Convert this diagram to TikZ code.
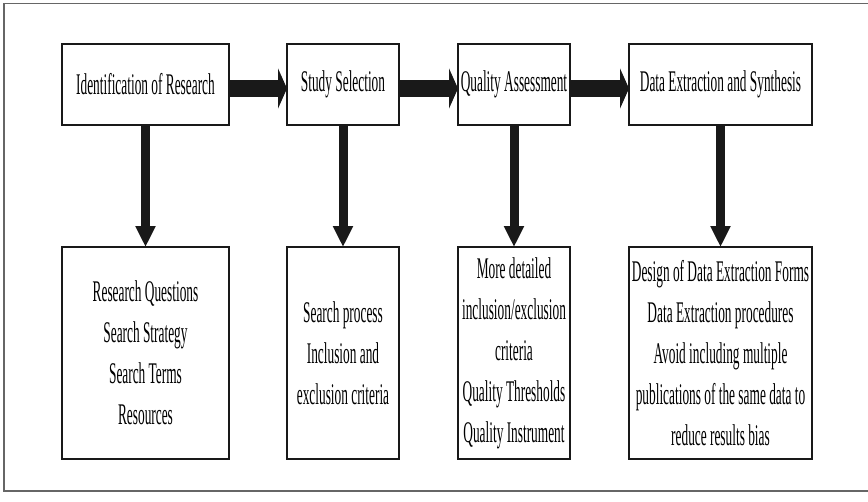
\documentclass[tikz,border=0pt]{standalone}
\usepackage{fontspec}
\setmainfont{Liberation Serif}[FakeStretch=0.445]
\usetikzlibrary{arrows.meta}

\begin{document}
\begin{tikzpicture}[x=1pt, y=-1pt,
        stage/.style={draw=black!90, line width=2.5pt, fill=white, outer sep=0pt, inner sep=1pt, align=center, font=\fontsize{30}{41}\selectfont},
        flow/.style={black!90, line width=17pt, -{Triangle[length=9pt, width=40pt]}},
        down/.style={black!90, line width=9pt, -{Triangle[length=21pt, width=19pt]}}]
        \useasboundingbox (0,0) rectangle (868,501);
        \draw[black!60, line width=1.5pt] (868,3.5) -- (4,3.5) -- (4,491) -- (868,491);
        % top row
        \node[stage, minimum width=167pt, minimum height=81pt] (ident) at (145.5,84.5) {Identification of Research};
        \node[stage, minimum width=112pt, minimum height=81pt] (select) at (343,84.5) {Study Selection};
        \node[stage, minimum width=112pt, minimum height=81pt] (quality) at (514,84.5) {Quality Assessment};
        \node[stage, minimum width=183pt, minimum height=81pt] (extract) at (720.5,84.5) {Data Extraction and Synthesis};
        % bottom row
        \node[stage, minimum width=167pt, minimum height=212pt] (identsub) at (145.5,353) {Research Questions\\Search Strategy\\Search Terms\\Resources};
        \node[stage, minimum width=112pt, minimum height=212pt] (selectsub) at (343,353) {Search process\\Inclusion and\\exclusion criteria};
        \node[stage, minimum width=112pt, minimum height=212pt] (qualitysub) at (514,353) {More detailed\\inclusion/exclusion\\criteria\\Quality Thresholds\\Quality Instrument};
        \node[stage, minimum width=183pt, minimum height=212pt] (extractsub) at (720.5,353) {Design of Data Extraction Forms\\Data Extraction procedures\\Avoid including multiple\\publications of the same data to\\reduce results bias};
        % arrows
        \draw[flow] ([yshift=-4pt]ident.east) -- ([yshift=-4pt]select.west);
        \draw[flow] ([yshift=-4pt]select.east) -- ([yshift=-4pt]quality.west);
        \draw[flow] ([yshift=-4pt]quality.east) -- ([yshift=-4pt]extract.west);
        \draw[down] (ident.south) -- (identsub.north);
        \draw[down] (select.south) -- (selectsub.north);
        \draw[down] (quality.south) -- (qualitysub.north);
        \draw[down] (extract.south) -- (extractsub.north);
    \end{tikzpicture}
\end{document}
